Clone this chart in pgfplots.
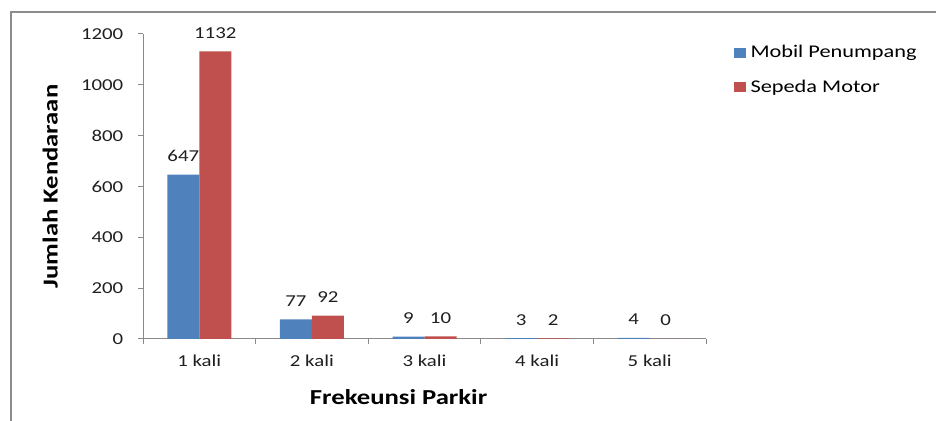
\documentclass[border=0pt]{standalone}
\usepackage{fontspec}
\setmainfont{Carlito}[FakeStretch=1.25]
\usepackage{pgfplots}
\pgfplotsset{compat=1.18}
\pgfkeys{/pgf/number format/.cd,1000 sep={}}

\definecolor{mobil}{HTML}{4F81BD}
\definecolor{motor}{HTML}{C0504D}
\definecolor{axisgray}{HTML}{8A8A8A}
\definecolor{framegray}{HTML}{8C8C8C}

\begin{document}
\begin{tikzpicture}
\useasboundingbox (0,0) rectangle (702pt,315.75pt);
% outer chart frame (top and left edges visible)
\draw[framegray,line width=1.1pt] (8.25pt,0) -- (8.25pt,306.75pt) -- (702pt,306.75pt);

\begin{axis}[
  at={(107.25pt,61.5pt)}, anchor=south west,
  scale only axis, width=422.25pt, height=228.75pt,
  /pgf/number format/assume math mode=true,
  axis lines*=left,
  axis line style={axisgray,line width=0.75pt},
  tick style={axisgray,line width=0.75pt},
  tick align=outside,
  major tick length=3.75pt,
  ymin=0, ymax=1200,
  ytick={0,200,...,1200},
  xmin=-0.5, xmax=4.5,
  xtick={-0.5,0.5,1.5,2.5,3.5,4.5},
  xticklabels={,,,,,},
  extra x ticks={0,1,2,3,4},
  extra x tick labels={1 kali,2 kali,3 kali,4 kali,5 kali},
  extra x tick style={major tick length=0pt},
  ticklabel style={font=\fontsize{12.5}{15}\selectfont, text=black!88},
  yticklabel style={xshift=-7.5pt},
  xticklabel style={yshift=-8.5pt},
  ybar=0pt, bar width=24pt,
  nodes near coords,
  nodes near coords style={font=\fontsize{12.5}{15}\selectfont, text=black!88, anchor=center, yshift=13.9pt},
  ylabel={Jumlah Kendaraan},
  xlabel={Frekeunsi Parkir},
  label style={font=\fontsize{16}{19}\selectfont\bfseries, text=black},
  ylabel style={at={(axis description cs:-0.165,0.5)}, anchor=center},
  xlabel style={at={(axis description cs:0.454,-0.19)}, anchor=center},
  legend style={at={(axis description cs:1.049,0.972)}, anchor=north west,
    draw=none, fill=none, font=\fontsize{13.4}{16}\selectfont,
    row sep=11.25pt, column sep=1.5pt, inner sep=0pt},
  legend cell align=left,
  legend image code/.code={\fill[#1] (0pt,-3.75pt) rectangle (9pt,3.75pt);},
]
\addplot[fill=mobil, draw=none] coordinates {(0,647) (1,77) (2,9) (3,3) (4,4)};
\addplot[fill=motor, draw=none] coordinates {(0,1132) (1,92) (2,10) (3,2) (4,0)};
\legend{Mobil Penumpang, Sepeda Motor}
\end{axis}
\end{tikzpicture}
\end{document}
